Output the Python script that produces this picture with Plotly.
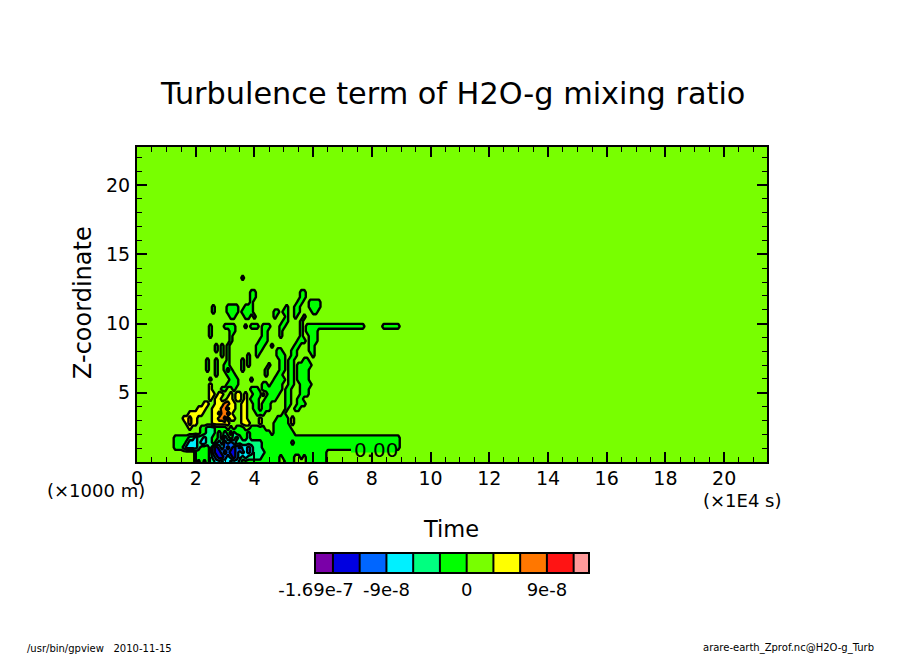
import numpy as np
import plotly.graph_objects as go

W, H = 904, 654

# class boundaries of the colour bar
BOUNDS = [-1.69e-7, -1.5e-7, -1.2e-7, -9e-8, -6e-8, -3e-8, 0, 3e-8, 6e-8, 9e-8, 1.2e-7, 1.361e-7]
COLORS = ["#7a00a8", "#0000e0", "#0066ff", "#00f0ff", "#00ff80", "#00ff00",
          "#78ff00", "#ffff00", "#ff7700", "#ff1414", "#ff9a9a"]
BAR_TICKS = [-1.69e-7, -9e-8, 0, 9e-8]
BAR_LABELS = ["-1.69e-7", "-9e-8", "0", "9e-8"]

# one letter per class: . chartreuse, g green, s spring, c cyan,
# a azure, b blue, y yellow, o orange, r red
LETTERS = {"b": 1, "a": 2, "c": 3, "s": 4, "g": 5, ".": 6, "y": 7, "o": 8, "r": 9}

# time (x1E4 s) of the columns and height (x1000 m) of the rows below
TIME = [1.2, 1.3, 1.4, 1.5, 1.6, 1.7, 1.8, 1.9, 2.0, 2.1, 2.2, 2.3, 2.4, 2.5, 2.6, 2.7, 2.8, 2.9,
        3.0, 3.1, 3.2, 3.3, 3.4, 3.5, 3.6, 3.7, 3.8, 3.9, 4.0, 4.1, 4.2, 4.3, 4.4, 4.5, 4.6, 4.7, 4.8, 4.9,
        5.0, 5.1, 5.2, 5.3, 5.4, 5.5, 5.6, 5.7, 5.8, 5.9, 6.0, 6.1, 6.2, 6.3, 6.4, 6.5, 6.6, 6.7, 6.8, 6.9,
        7.0, 7.1, 7.2, 7.3, 7.4, 7.5, 7.6, 7.7, 7.8, 7.9, 8.0, 8.1, 8.2, 8.3, 8.4, 8.5, 8.6, 8.7, 8.8, 8.9,
        9.0, 9.1, 9.2]
HEIGHT = [0.0, 0.35, 0.7, 1.05, 1.4, 1.75, 2.1, 2.45, 2.8, 3.15, 3.5, 3.85, 4.2, 4.55, 4.9, 5.25, 5.6, 5.95, 6.3,
          6.65, 7.0, 7.35, 7.7, 8.05, 8.4, 8.75, 9.1, 9.45, 9.8, 10.15, 10.5, 10.85, 11.2, 11.55, 11.9, 12.25,
          12.6, 12.95, 13.3]

# rows from the ground up. "col:letters" puts classes from that column on, "a-b:x" fills a run,
# everything else stays background
ROWS = [
    "8:g 10:g 12:gss 15:ccsccsccss 24-36:g 39-41:g 46-52:g",
    "8-12:g 13:scabbacabacscs 27-30:s 31-36:g 38-41:g 44:g 46-52:g",
    "8-12:g 13:sabbacabbacacac 28-31:s 32-52:g",
    "1-3:g 4:sccccs 10-12:g 13:sabacabababcca 27-30:c 28-30:s 31-77:g",
    "1-4:g 5:scccscc 12:ss 14:gsc 17:sacac 22-28:s 29-30:s 31-77:g 41:s",
    "1-5:g 6:sscssc 12:ss 14:gg 16:sgcsgscs 24:gg 26:s 27-77:g",
    "10:gg 12:sss 15:g 16:sgsg 21:s 22-25:g 26:s 27-33:g 35-41:g",
    "6:y 10:gg 12:sss 15-18:g 20:g 22-24:g 27-31:g 35-40:g",
    "5:yoyy 14-19:y 24:yyy 30:y 35-39:g 41:y",
    "4:yyoyy 14:yy 16:oor 20:yy 24:yy 30:y 36-39:g 41:y",
    "6:yyyyy 14:yy 17:oor 20:y 24:yy 29-31:g 38:g",
    "9:yyy 14:yyy 17:oo 20:yy 24:yy 28:gg 31-33:g 39:g 42:gg",
    "11:yy 15:yyy 18:oo 20:yy 24:yy 28:gg 31-33:g 39:gg 43:ggg",
    "13:y 15:yy 19:yy 22:yy 25:y 27-29:g 32-35:g 39:gg 43:gg",
    "13:yy 16:yy 20:y 22:yy 25:y 28-30:g 31:y 33-36:g 39:gg 44:ggg",
    "13:y 17:gg 21:g 27-29:g 31-37:g 39:gg 44:ggg",
    "13:y 19-22:g 31:gg 34-37:g 40:gg 44-47:g",
    "13:g 20-22:g 27:g 35-38:g 40:gg 43-46:g",
    "15:g 19-21:g 32:g 36:gg 40:gg 43-46:g",
    "12:g 15:g 18:g 20:g 24:g 32:g 37:gg 40:gg 43-46:g",
    "12:g 15:g 18:gg 24:g 26:g 33:g 37:gg 40:gg 43-47:g",
    "12:g 15:g 19:g 24:g 26:g 37:gg 40:gg 45:gg",
    "17:g 19:g 26:g 29:g 36-38:g 41:gg 48:g",
    "15:g 17:g 19:g 29:gg 36:gg 41:gg 47:gg",
    "15:g 17:g 19:g 29-31:g 34:g 42:gg 47:gg",
    "20:g 30-32:g 43-45:g 47-49:g",
    "13:g 20:g 31:gg 37:g 44:g 47-49:g",
    "13:g 20:gg 31:gg 37:g 44:g 46-49:g",
    "13:g 18-21:g 25:g 27-29:g 31-33:g 37:gg 44:g 46-65:g 72-77:g",
    "38:gg 44:g",
    "20:gg 25:gg 28:g 35:g 39:g 42:g 45:g",
    "14:g 19-22:g 24-27:g 35:gg 38:gg 42:gg 48:gg",
    "14:g 19-22:g 25-27:g 39:g 42:gg 47-50:g",
    "27:g 43:gg 47-50:g",
    "27:gg 44:gg",
    "27:gg 44:gg",
    "",
    "",
    "24:g",
]


def to_x(px):
    return px / W


def to_y(py):
    return 1 - py / H


mids = [(a + b) / 2 for a, b in zip(BOUNDS[:-1], BOUNDS[1:])]
bg = mids[6]
grid = np.full((len(HEIGHT), len(TIME)), bg)
for i, row in enumerate(ROWS):
    for token in row.split():
        where, letters = token.split(":")
        if "-" in where:
            a, b = where.split("-")
            grid[i, int(a):int(b) + 1] = mids[LETTERS[letters]]
        else:
            for k, ch in enumerate(letters):
                grid[i, int(where) + k] = mids[LETTERS[ch]]

# background margins out to the axis limits
x = [0.0, 1.1] + TIME + [9.3, 21.53]
y = HEIGHT + [13.65, 22.75]
z = np.full((len(y), len(x)), bg)
z[:len(HEIGHT), 2:-2] = grid

# stepped colour scale shared by contours and bar
span = BOUNDS[-1] - BOUNDS[0]
scale = []
for k, c in enumerate(COLORS):
    scale.append([(BOUNDS[k] - BOUNDS[0]) / span, c])
    scale.append([(BOUNDS[k + 1] - BOUNDS[0]) / span, c])

fig = go.Figure()
fig.add_trace(go.Contour(
    x=x, y=y, z=z,
    zmin=BOUNDS[0], zmax=BOUNDS[-1],
    colorscale=scale, showscale=False,
    autocontour=False,
    contours=dict(start=BOUNDS[1], end=BOUNDS[-2], size=3e-8, coloring="fill", showlabels=False),
    line=dict(color="black", width=2.4, smoothing=0),
    hoverinfo="skip",
))
fig.add_trace(go.Heatmap(
    x=BOUNDS, y=[0, 1], z=[mids],
    xaxis="x2", yaxis="y2",
    zmin=BOUNDS[0], zmax=BOUNDS[-1],
    colorscale=scale, showscale=False,
    xgap=0, hoverinfo="skip",
))
# separators of the colour bar
fig.add_trace(go.Scatter(
    x=[b for b in BOUNDS[1:-1] for _ in range(3)],
    y=[v for _ in BOUNDS[1:-1] for v in (0, 1, None)],
    xaxis="x2", yaxis="y2", mode="lines",
    line=dict(color="black", width=2), showlegend=False, hoverinfo="skip",
))

tick_font = dict(family="DejaVu Sans", size=19, color="black")
fig.update_layout(
    width=W, height=H,
    margin=dict(l=0, r=0, t=0, b=0, autoexpand=False),
    paper_bgcolor="white", plot_bgcolor="white",
    showlegend=False,
    xaxis=dict(
        domain=[to_x(137), to_x(767)], anchor="y", range=[0, 21.46],
        tickvals=list(range(0, 22, 2)), ticks="inside", ticklen=10, tickwidth=2, tickcolor="black",
        minor=dict(dtick=0.5, tick0=0, ticks="inside", ticklen=5, tickwidth=1, tickcolor="black"),
        showline=True, linewidth=2, linecolor="black", mirror="allticks",
        showgrid=False, zeroline=False, tickfont=tick_font, ticklabelstandoff=-2,
    ),
    yaxis=dict(
        domain=[to_y(462), to_y(147)], anchor="x", range=[0, 22.75],
        tickvals=[5, 10, 15, 20], ticks="inside", ticklen=10, tickwidth=2, tickcolor="black",
        minor=dict(dtick=1, tick0=0, ticks="inside", ticklen=5, tickwidth=1, tickcolor="black"),
        showline=True, linewidth=2, linecolor="black", mirror="allticks",
        showgrid=False, zeroline=False, tickfont=tick_font, ticklabelstandoff=1,
    ),
    xaxis2=dict(
        domain=[to_x(316), to_x(588)], anchor="y2", range=[BOUNDS[0], BOUNDS[-1]],
        tickvals=BAR_TICKS, ticktext=BAR_LABELS, ticks="",
        showline=True, linewidth=2, linecolor="black", mirror=True,
        showgrid=False, zeroline=False, tickfont=dict(family="DejaVu Sans", size=18, color="black"),
    ),
    yaxis2=dict(
        domain=[to_y(572), to_y(554)], anchor="x2", range=[0, 1],
        showticklabels=False, ticks="",
        showline=True, linewidth=2, linecolor="black", mirror=True,
        showgrid=False, zeroline=False,
    ),
)

# gap in the contour line where the 0.00 label sits
fig.add_shape(type="rect", xref="paper", yref="paper", x0=to_x(351), x1=to_x(396), y0=to_y(452.5), y1=to_y(447),
              fillcolor="#00ff00", line_width=0, layer="above")


def label(text, px, py, size, anchor="center", angle=0):
    fig.add_annotation(
        text=text, x=to_x(px), y=to_y(py), xref="paper", yref="paper",
        xanchor=anchor, yanchor="middle", showarrow=False, textangle=angle,
        font=dict(family="DejaVu Sans", size=size, color="black"),
    )


label("Turbulence term of H2O-g mixing ratio", 452, 93, 30.3)
label("Time", 451, 529, 22.5)
label("Z-coordinate", 83, 303, 24, angle=-90)
label("(×1000 m)", 96, 490, 18)
label("(×1E4 s)", 742, 500, 18)
label("0.00", 376, 450, 20)
label("/usr/bin/gpview\u00a0\u00a0\u00a02010-11-15", 25, 648, 10, anchor="left")
label("arare-earth_Zprof.nc@H2O-g_Turb", 876, 648, 10, anchor="right")

fig.write_html("out.html", post_script="document.body.style.margin='0';",
               config={"displayModeBar": False})
